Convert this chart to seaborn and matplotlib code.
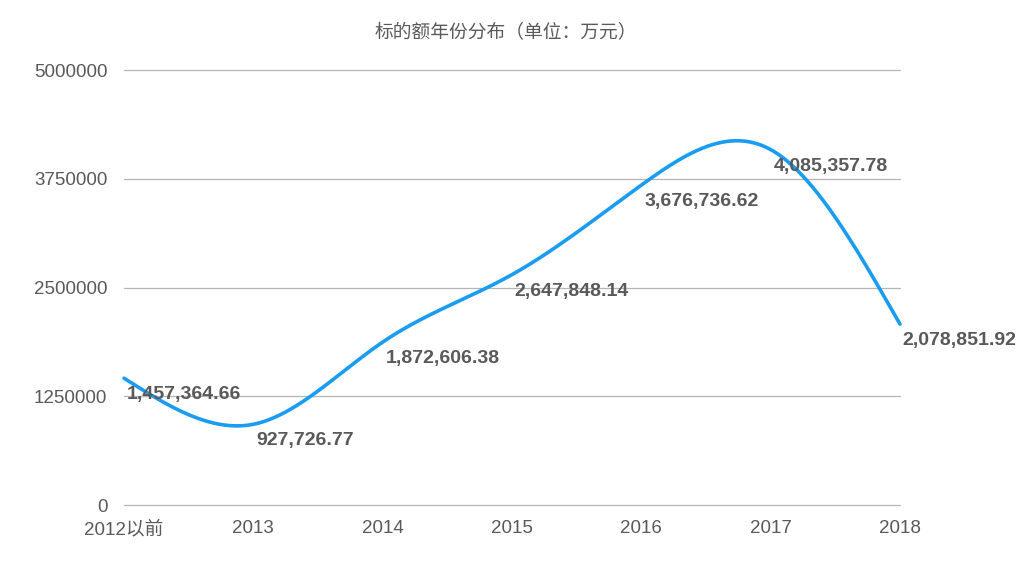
import numpy as np
import pandas as pd
import matplotlib
matplotlib.use("Agg")
import matplotlib.pyplot as plt
import seaborn as sns

# data (万元)
years = ["2012以前", "2013", "2014", "2015", "2016", "2017", "2018"]
amounts = [1457364.66, 927726.77, 1872606.38, 2647848.14, 3676736.62, 4085357.78, 2078851.92]
yticks = [0, 1250000, 2500000, 3750000, 5000000]
title = "标的额年份分布（单位：万元）"

line_color = "#1a9cf0"
text_color = "#595959"


def natural_spline(x, y, n=400):
    # smooth curve through the points, just for the drawing
    x = np.asarray(x, float)
    y = np.asarray(y, float)
    k = len(x)
    h = np.diff(x)
    A = np.zeros((k, k))
    b = np.zeros(k)
    A[0, 0] = A[-1, -1] = 1
    for i in range(1, k - 1):
        A[i, i - 1] = h[i - 1]
        A[i, i] = 2 * (h[i - 1] + h[i])
        A[i, i + 1] = h[i]
        b[i] = 6 * ((y[i + 1] - y[i]) / h[i] - (y[i] - y[i - 1]) / h[i - 1])
    m = np.linalg.solve(A, b)
    xs = np.linspace(x[0], x[-1], n)
    idx = np.clip(np.searchsorted(x, xs) - 1, 0, k - 2)
    t0 = xs - x[idx]
    t1 = x[idx + 1] - xs
    hi = h[idx]
    ys = (m[idx] * t1**3 + m[idx + 1] * t0**3) / (6 * hi) \
        + (y[idx] / hi - m[idx] * hi / 6) * t1 \
        + (y[idx + 1] / hi - m[idx + 1] * hi / 6) * t0
    return xs, ys


sns.set_theme(style="white")
plt.rcParams["font.family"] = ["Liberation Sans", "Noto Sans CJK SC", "DejaVu Sans"]

fig = plt.figure(figsize=(10.23, 5.75), dpi=100)
ax = fig.add_axes([124 / 1023, 1 - 505 / 575, 776 / 1023, 435 / 575])

pos = np.arange(len(years))
xs, ys = natural_spline(pos, amounts)
curve = pd.DataFrame({"x": xs, "y": ys})
sns.lineplot(data=curve, x="x", y="y", ax=ax, color=line_color, linewidth=2.6,
             clip_on=False, zorder=3)

for p, v in zip(pos, amounts):
    ax.annotate(f"{v:,.2f}", (p, v), xytext=(2, -12), textcoords="offset points",
                ha="left", va="center", fontsize=14, fontweight="bold",
                color=text_color, zorder=4, annotation_clip=False)

ax.set_xlim(0, len(years) - 1)
ax.set_ylim(0, 5000000)
ax.set_xticks(pos)
ax.set_xticklabels(years)
ax.set_yticks(yticks)
ax.set_yticklabels([str(t) for t in yticks])
ax.set_xlabel("")
ax.set_ylabel("")
ax.tick_params(axis="both", length=0, labelsize=13.5, labelcolor=text_color)
ax.tick_params(axis="x", pad=11)
ax.tick_params(axis="y", pad=12)
ax.grid(False)
for t in yticks:
    ax.axhline(t, color="#b5b5b5", linewidth=0.9, zorder=1, clip_on=False)
for s in ax.spines.values():
    s.set_visible(False)

fig.text(506 / 1023, 1 - 33 / 575, title, ha="center", va="center",
         fontsize=13.5, color=text_color)

fig.savefig("out.png", dpi=100)
